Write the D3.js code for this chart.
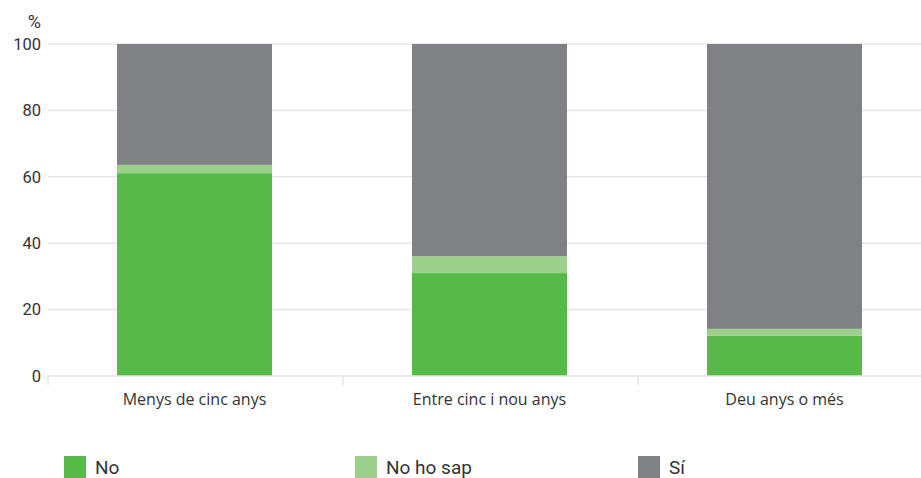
<!DOCTYPE html>
<html>
<head>
<meta charset="utf-8">
<script src="https://cdn.jsdelivr.net/npm/d3@7/dist/d3.min.js"></script>
<style>
  body { margin: 0; background: #fff; }
  svg { display: block; font-family: Roboto, "Noto Sans", sans-serif; }
</style>
</head>
<body>
<div id="chart"></div>
<script>
// categories and series (percent of respondents)
const categories = ['Menys de cinc anys', 'Entre cinc i nou anys', 'Deu anys o més'];
const seriesNames = ['No', 'No ho sap', 'Sí'];
const noValues = [61.1, 31.0, 12.1];
const noSapValues = [2.5, 5.1, 2.1];
const siValues = [36.4, 63.9, 85.8];
const yTicks = [0, 20, 40, 60, 80, 100];
const colors = ['#57b94a', '#9dd18b', '#808184'];

const width = 921, height = 478;
const svg = d3.select('#chart').append('svg')
  .attr('width', width)
  .attr('height', height);

const x = d3.scaleBand()
  .domain(categories)
  .range([47, 932])
  .paddingInner(0)
  .paddingOuter(0);

const y = d3.scaleLinear()
  .domain([0, 100])
  .range([376, 44]);

// gridlines
svg.append('g')
  .selectAll('line')
  .data(yTicks.filter(d => d > 0))
  .enter().append('line')
    .attr('x1', 48).attr('x2', width)
    .attr('y1', d => y(d)).attr('y2', d => y(d))
    .attr('stroke', '#e6e6e6')
    .attr('stroke-width', 1.5);

// y axis labels
const yAxis = svg.append('g')
  .attr('transform', 'translate(41,0)')
  .call(d3.axisLeft(y).tickValues(yTicks).tickSize(0).tickPadding(0));
yAxis.select('.domain').remove();
yAxis.selectAll('text')
  .attr('font-size', 16.5)
  .attr('font-family', 'Roboto, "Noto Sans", sans-serif')
  .attr('fill', '#333');

svg.append('text')
  .attr('x', 41).attr('y', 28)
  .attr('text-anchor', 'end')
  .attr('font-size', 18)
  .attr('fill', '#333')
  .text('%');

// stacked data
const rows = categories.map((c, i) => ({
  cat: c, 'No': noValues[i], 'No ho sap': noSapValues[i], 'Sí': siValues[i]
}));
const stacked = d3.stack().keys(seriesNames)(rows);

const barW = 155;
svg.append('g')
  .selectAll('g')
  .data(stacked)
  .enter().append('g')
    .attr('fill', (d, i) => colors[i])
  .selectAll('rect')
  .data(d => d)
  .enter().append('rect')
    .attr('x', d => x(d.data.cat) + (x.bandwidth() - barW) / 2)
    .attr('width', barW)
    .attr('y', d => y(d[1]))
    .attr('height', d => y(d[0]) - y(d[1]));

// x axis baseline
const xAxis = svg.append('g')
  .attr('transform', 'translate(0,376)');
xAxis.append('line')
  .attr('x1', 48).attr('x2', width)
  .attr('stroke', '#e6e6e6').attr('stroke-width', 1.5);
xAxis.selectAll('.sep')
  .data(categories)
  .enter().append('line')
    .attr('x1', d => x(d) + 1).attr('x2', d => x(d) + 1)
    .attr('y1', 0).attr('y2', 9)
    .attr('stroke', '#e6e6e6').attr('stroke-width', 1.5);
xAxis.selectAll('.lbl')
  .data(categories)
  .enter().append('text')
    .attr('x', d => x(d) + x.bandwidth() / 2)
    .attr('y', 29)
    .attr('text-anchor', 'middle')
    .attr('font-size', 16)
    .attr('font-family', '"Open Sans", Roboto, sans-serif')
    .attr('fill', '#333')
    .text(d => d);

// legend
const legendX = [64, 355, 638];
const legend = svg.append('g')
  .selectAll('g')
  .data(seriesNames)
  .enter().append('g')
    .attr('transform', (d, i) => `translate(${legendX[i]},456)`);
legend.append('rect')
  .attr('width', 22).attr('height', 22)
  .attr('fill', (d, i) => colors[i]);
legend.append('text')
  .attr('x', 31).attr('y', 18)
  .attr('font-size', 19)
  .attr('font-family', 'Roboto, sans-serif')
  .attr('fill', '#333')
  .text(d => d);
</script>
</body>
</html>
